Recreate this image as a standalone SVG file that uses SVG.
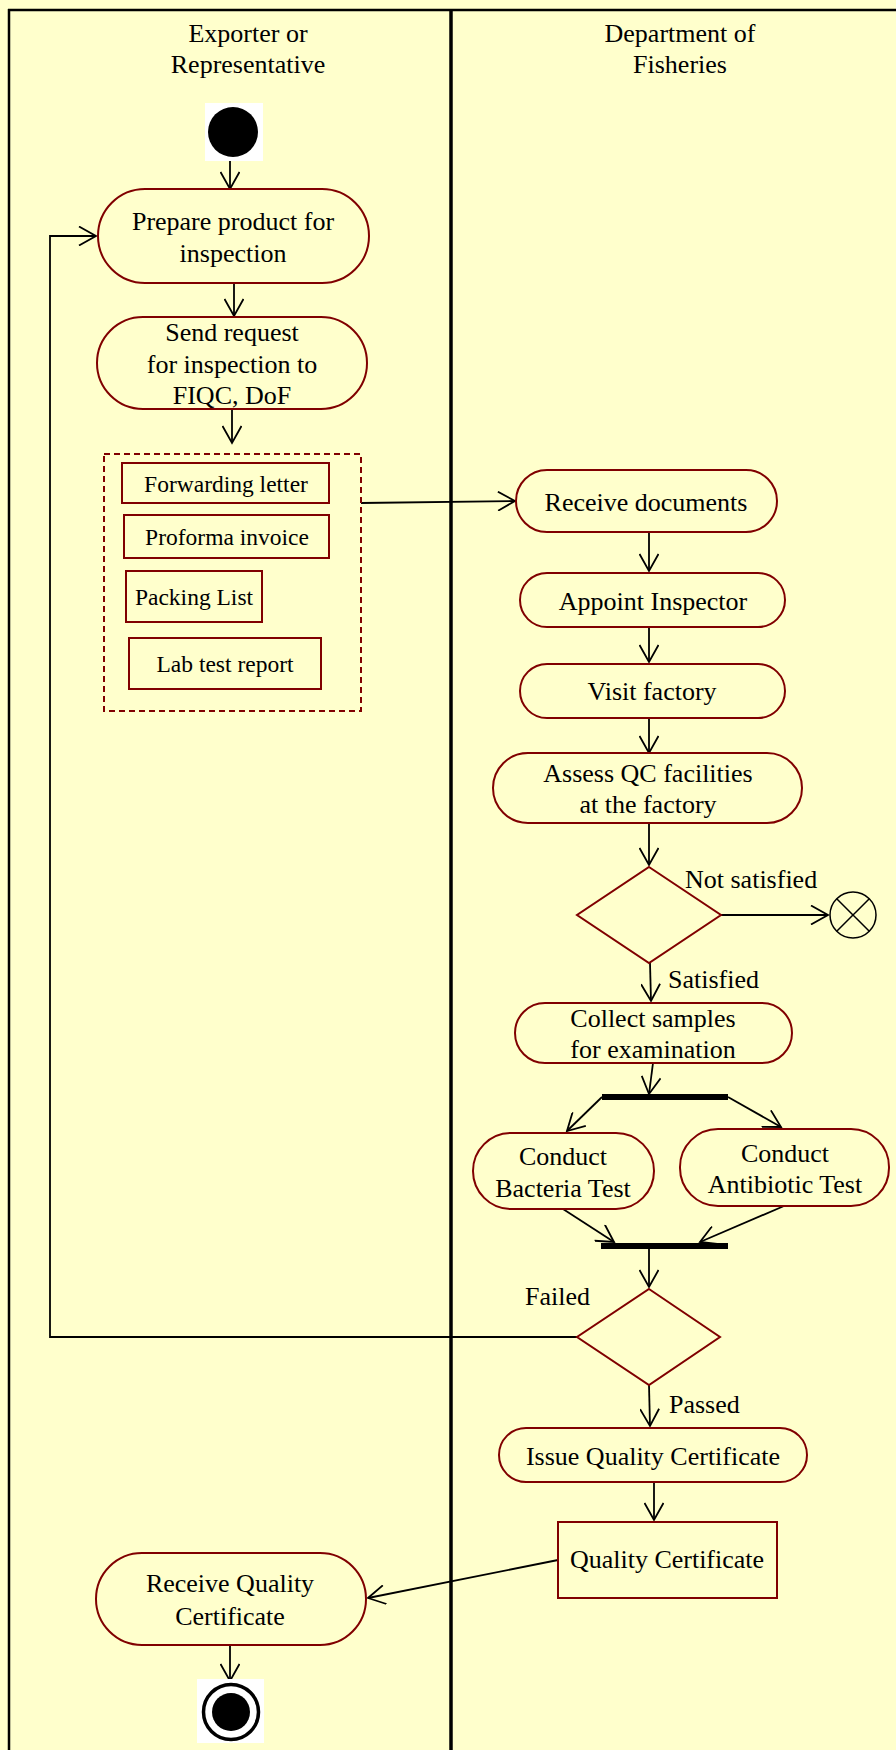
<svg xmlns="http://www.w3.org/2000/svg" width="896" height="1750" viewBox="0 0 896 1750">
<defs>
<style>
.t{font-family:"Liberation Serif","Times New Roman",serif;font-size:26px;fill:#000;text-anchor:middle}
.d{font-family:"Liberation Serif","Times New Roman",serif;font-size:23.5px;fill:#000;text-anchor:middle}
.l{font-family:"Liberation Serif","Times New Roman",serif;font-size:26px;fill:#000}
.n{fill:#FFFFCC;stroke:#800000;stroke-width:2}
.c{fill:none;stroke:#000;stroke-width:1.8}
.lane{stroke:#000;fill:none}
</style>
<marker id="ah" viewBox="0 0 20 20" refX="18" refY="10" markerWidth="20" markerHeight="20" markerUnits="userSpaceOnUse" orient="auto">
<path d="M1,0.5 L18,10 L1,19.5" fill="none" stroke="#000" stroke-width="1.8"/>
</marker>
</defs>
<rect x="0" y="0" width="896" height="1750" fill="#FFFFCC"/>
<g id="swimlanes">
<line class="lane" x1="8" y1="10" x2="896" y2="10" stroke-width="2.5"/>
<line class="lane" x1="9" y1="9" x2="9" y2="1750" stroke-width="2.5"/>
<line class="lane" x1="451" y1="10" x2="451" y2="1750" stroke-width="3.5"/>
<text class="t" x="248" y="42">Exporter or</text>
<text class="t" x="248" y="73">Representative</text>
<text class="t" x="680" y="42">Department of</text>
<text class="t" x="680" y="73">Fisheries</text>
</g>
<g id="connectors">
<line class="c" x1="230" y1="157" x2="230" y2="189" marker-end="url(#ah)"/>
<line class="c" x1="234" y1="283" x2="234" y2="316" marker-end="url(#ah)"/>
<line class="c" x1="232" y1="409" x2="232" y2="443" marker-end="url(#ah)"/>
<line class="c" x1="361" y1="503" x2="515" y2="501" marker-end="url(#ah)"/>
<line class="c" x1="649" y1="532" x2="649" y2="571" marker-end="url(#ah)"/>
<line class="c" x1="649" y1="627" x2="649" y2="662" marker-end="url(#ah)"/>
<line class="c" x1="649" y1="718" x2="649" y2="753" marker-end="url(#ah)"/>
<line class="c" x1="649" y1="823" x2="649" y2="865" marker-end="url(#ah)"/>
<line class="c" x1="721" y1="915" x2="828" y2="915" marker-end="url(#ah)"/>
<line class="c" x1="650" y1="963" x2="651" y2="1001" marker-end="url(#ah)"/>
<line class="c" x1="653" y1="1063" x2="649" y2="1094" marker-end="url(#ah)"/>
<line class="c" x1="602" y1="1097" x2="567" y2="1131" marker-end="url(#ah)"/>
<line class="c" x1="728" y1="1097" x2="781" y2="1127" marker-end="url(#ah)"/>
<line class="c" x1="563" y1="1209" x2="614" y2="1242" marker-end="url(#ah)"/>
<line class="c" x1="784" y1="1206" x2="700" y2="1242" marker-end="url(#ah)"/>
<line class="c" x1="649" y1="1249" x2="649" y2="1287" marker-end="url(#ah)"/>
<polyline class="c" points="577,1337 50,1337 50,236 96,236" marker-end="url(#ah)"/>
<line class="c" x1="649" y1="1385" x2="650" y2="1426" marker-end="url(#ah)"/>
<line class="c" x1="654" y1="1482" x2="654" y2="1520" marker-end="url(#ah)"/>
<line class="c" x1="558" y1="1560" x2="368" y2="1598" marker-end="url(#ah)"/>
<line class="c" x1="230" y1="1645" x2="230" y2="1681" marker-end="url(#ah)"/>
<text class="l" x="685" y="888">Not satisfied</text>
<text class="l" x="668" y="988">Satisfied</text>
<text class="l" x="525" y="1305">Failed</text>
<text class="l" x="669" y="1413">Passed</text>
</g>
<g id="start">
<rect x="205" y="103" width="58" height="58" fill="#fff"/>
<circle cx="233" cy="132" r="25" fill="#000"/>
</g>
<g id="prepare">
<rect class="n" x="98" y="189" width="271" height="94" rx="47"/>
<text class="t" x="233" y="230">Prepare product for</text>
<text class="t" x="233" y="262">inspection</text>
</g>
<g id="send">
<rect class="n" x="97" y="317" width="270" height="92" rx="46"/>
<text class="t" x="232" y="341">Send request</text>
<text class="t" x="232" y="373">for inspection to</text>
<text class="t" x="232" y="404">FIQC, DoF</text>
</g>
<g id="documents">
<rect x="104" y="454" width="257" height="257" fill="none" stroke="#800000" stroke-width="2" stroke-dasharray="6 4"/>
<rect class="n" x="122" y="463" width="207" height="40"/>
<text class="d" x="226" y="492">Forwarding letter</text>
<rect class="n" x="124" y="515" width="205" height="43"/>
<text class="d" x="227" y="545">Proforma invoice</text>
<rect class="n" x="126" y="571" width="136" height="51"/>
<text class="d" x="194" y="605">Packing List</text>
<rect class="n" x="129" y="638" width="192" height="51"/>
<text class="d" x="225" y="672">Lab test report</text>
</g>
<g id="receive-documents">
<rect class="n" x="516" y="470" width="261" height="62" rx="31"/>
<text class="t" x="646" y="511">Receive documents</text>
</g>
<g id="appoint">
<rect class="n" x="520" y="573" width="265" height="54" rx="27"/>
<text class="t" x="653" y="610">Appoint Inspector</text>
</g>
<g id="visit">
<rect class="n" x="520" y="664" width="265" height="54" rx="27"/>
<text class="t" x="652" y="700">Visit factory</text>
</g>
<g id="assess">
<rect class="n" x="493" y="753" width="309" height="70" rx="35"/>
<text class="t" x="648" y="782">Assess QC facilities</text>
<text class="t" x="648" y="813">at the factory</text>
</g>
<g id="decision1">
<polygon class="n" points="649,867 721,915 649,963 577,915"/>
</g>
<g id="flow-final">
<circle cx="853" cy="915" r="23" fill="#FFFFCC" stroke="#000" stroke-width="1.5"/>
<line x1="836.7" y1="898.7" x2="869.3" y2="931.3" stroke="#000" stroke-width="1.5"/>
<line x1="869.3" y1="898.7" x2="836.7" y2="931.3" stroke="#000" stroke-width="1.5"/>
</g>
<g id="collect">
<rect class="n" x="515" y="1003" width="277" height="60" rx="30"/>
<text class="t" x="653" y="1027">Collect samples</text>
<text class="t" x="653" y="1058">for examination</text>
</g>
<g id="fork">
<rect x="602" y="1094" width="126" height="6" fill="#000"/>
</g>
<g id="bacteria">
<rect class="n" x="473" y="1133" width="181" height="76" rx="38"/>
<text class="t" x="563" y="1165">Conduct</text>
<text class="t" x="563" y="1197">Bacteria Test</text>
</g>
<g id="antibiotic">
<rect class="n" x="680" y="1129" width="209" height="77" rx="38"/>
<text class="t" x="785" y="1162">Conduct</text>
<text class="t" x="785" y="1193">Antibiotic Test</text>
</g>
<g id="join">
<rect x="601" y="1243" width="127" height="6" fill="#000"/>
</g>
<g id="decision2">
<polygon class="n" points="649,1289 720,1337 649,1385 577,1337"/>
</g>
<g id="issue">
<rect class="n" x="499" y="1428" width="308" height="54" rx="27"/>
<text class="t" x="653" y="1465">Issue Quality Certificate</text>
</g>
<g id="quality-certificate">
<rect class="n" x="558" y="1522" width="219" height="76"/>
<text class="t" x="667" y="1568">Quality Certificate</text>
</g>
<g id="receive-qc">
<rect class="n" x="96" y="1553" width="270" height="92" rx="46"/>
<text class="t" x="230" y="1592">Receive Quality</text>
<text class="t" x="230" y="1625">Certificate</text>
</g>
<g id="end">
<rect x="197" y="1679" width="67" height="64" fill="#fff"/>
<circle cx="231" cy="1712" r="27.5" fill="none" stroke="#000" stroke-width="3.5"/>
<circle cx="231" cy="1712" r="19" fill="#000"/>
</g>
</svg>
